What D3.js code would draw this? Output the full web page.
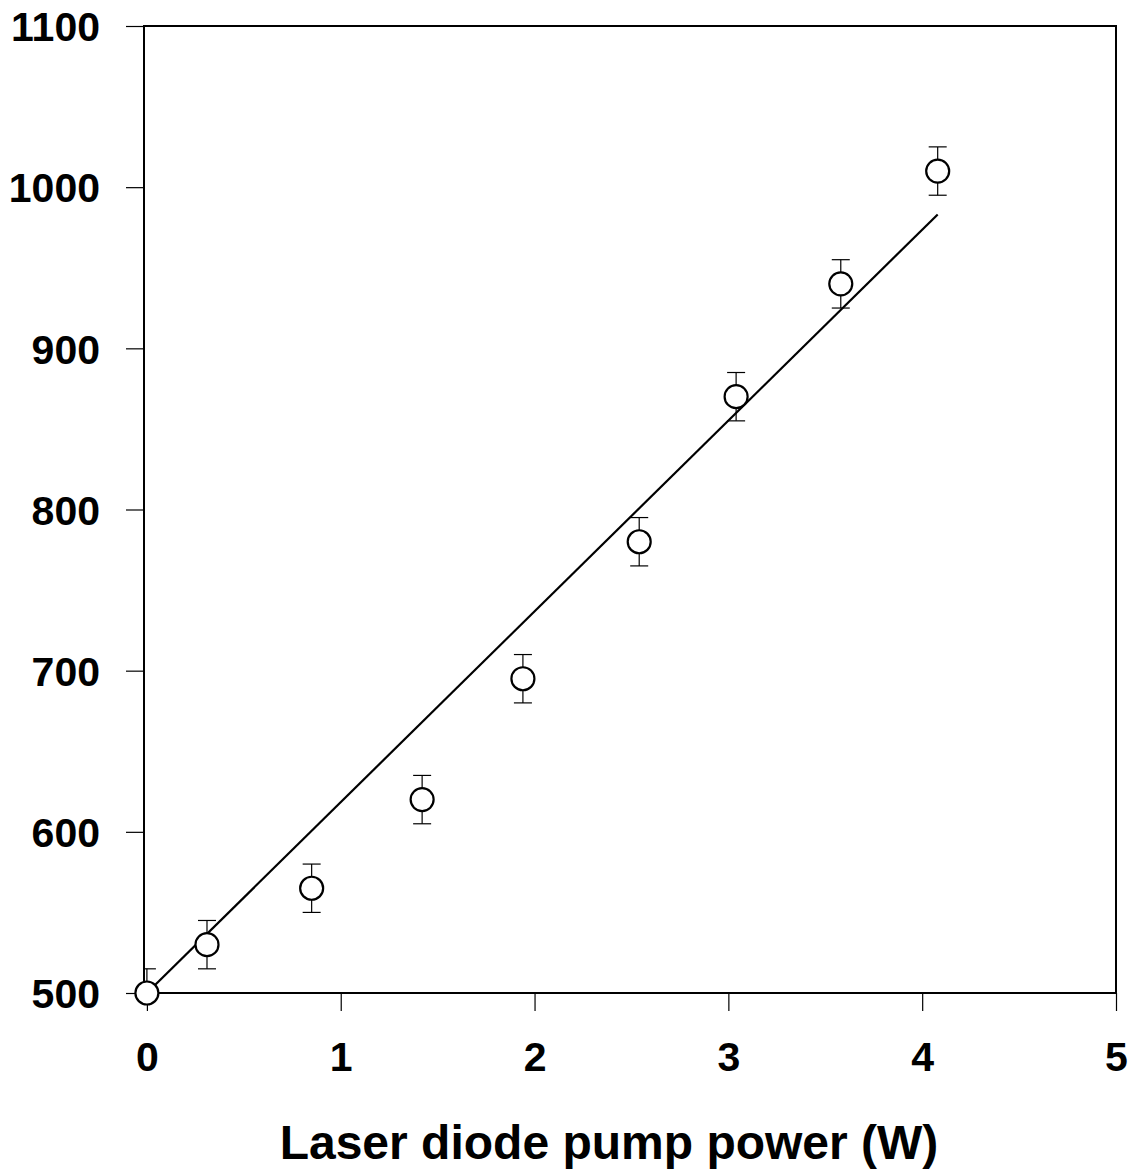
<!DOCTYPE html>
<html>
<head>
<meta charset="utf-8">
<script src="https://cdn.jsdelivr.net/npm/d3@7"></script>
<style>
  html, body { margin: 0; padding: 0; background: #fff; }
  svg { display: block; }
  text { font-family: "Liberation Sans", Arial, sans-serif; fill: #000; }
</style>
</head>
<body>
<svg id="chart" width="1141" height="1173"></svg>
<script>
// Measured output vs. pump power
const pumpPower = [0, 0.31, 0.85, 1.42, 1.94, 2.54, 3.04, 3.58, 4.08];
const outputValue = [500, 530, 565, 620, 695, 780, 870, 940, 1010];
const errorHalf = [15, 15, 15, 15, 15, 15, 15, 15, 15];

// Linear fit drawn across the measured range
const fitX = [0, 4.08];
const fitIntercept = 500;
const fitSlope = 118.4;

const xTicks = [0, 1, 2, 3, 4, 5];
const yTicks = [500, 600, 700, 800, 900, 1000, 1100];
const xTitle = "Laser diode pump power (W)";

const svg = d3.select("#chart");
const plot = { left: 144, right: 1116, top: 26, bottom: 993 };

const x = d3.scaleLinear().domain([-0.015, 5]).range([plot.left, plot.right]);
const y = d3.scaleLinear().domain([500, 1100]).range([plot.bottom, plot.top]);

// Clip region for the error bars
svg.append("defs").append("clipPath").attr("id", "plot-clip")
  .append("rect")
  .attr("x", plot.left).attr("y", plot.top)
  .attr("width", plot.right - plot.left).attr("height", plot.bottom - plot.top);

// Frame
svg.append("rect")
  .attr("x", plot.left).attr("y", plot.top)
  .attr("width", plot.right - plot.left).attr("height", plot.bottom - plot.top)
  .attr("fill", "none").attr("stroke", "#000").attr("stroke-width", 2);

// Axes
const xAxis = svg.append("g")
  .attr("transform", `translate(0,${plot.bottom})`)
  .call(d3.axisBottom(x).tickValues(xTicks).tickFormat(d3.format("d")).tickSize(18).tickPadding(31));
const yAxis = svg.append("g")
  .attr("transform", `translate(${plot.left},0)`)
  .call(d3.axisLeft(y).tickValues(yTicks).tickFormat(d3.format("d")).tickSize(18).tickPadding(26));

[xAxis, yAxis].forEach(g => {
  g.select(".domain").remove();
  g.selectAll(".tick line").attr("stroke", "#000").attr("stroke-width", 1.2);
  g.selectAll(".tick text")
    .attr("font-family", "'Liberation Sans', Arial, sans-serif")
    .attr("font-size", 41).attr("font-weight", "bold").attr("fill", "#000");
});
yAxis.selectAll(".tick text").attr("dy", "0.36em");

// Fit line
const fitLine = d3.line().x(d => x(d)).y(d => y(fitIntercept + fitSlope * d));
svg.append("path")
  .datum(fitX)
  .attr("d", fitLine)
  .attr("fill", "none").attr("stroke", "#000").attr("stroke-width", 2.2);

// Error bars
const pts = pumpPower.map((p, i) => ({ x: p, y: outputValue[i], e: errorHalf[i] }));
const eb = svg.append("g").attr("stroke", "#000").attr("stroke-width", 1.2)
  .attr("clip-path", "url(#plot-clip)");
pts.forEach(d => {
  eb.append("line").attr("x1", x(d.x)).attr("x2", x(d.x)).attr("y1", y(d.y + d.e)).attr("y2", y(d.y - d.e));
  [d.y + d.e, d.y - d.e].forEach(v => {
    eb.append("line").attr("x1", x(d.x) - 9).attr("x2", x(d.x) + 9).attr("y1", y(v)).attr("y2", y(v));
  });
});

// Markers
svg.append("g").selectAll("circle")
  .data(pts).join("circle")
  .attr("cx", d => x(d.x)).attr("cy", d => y(d.y)).attr("r", 11.5)
  .attr("fill", "#fff").attr("stroke", "#000").attr("stroke-width", 2.2);

// Axis title
svg.append("text")
  .attr("x", 609).attr("y", 1159)
  .attr("text-anchor", "middle")
  .attr("font-size", 48).attr("font-weight", "bold")
  .text(xTitle);
</script>
</body>
</html>
